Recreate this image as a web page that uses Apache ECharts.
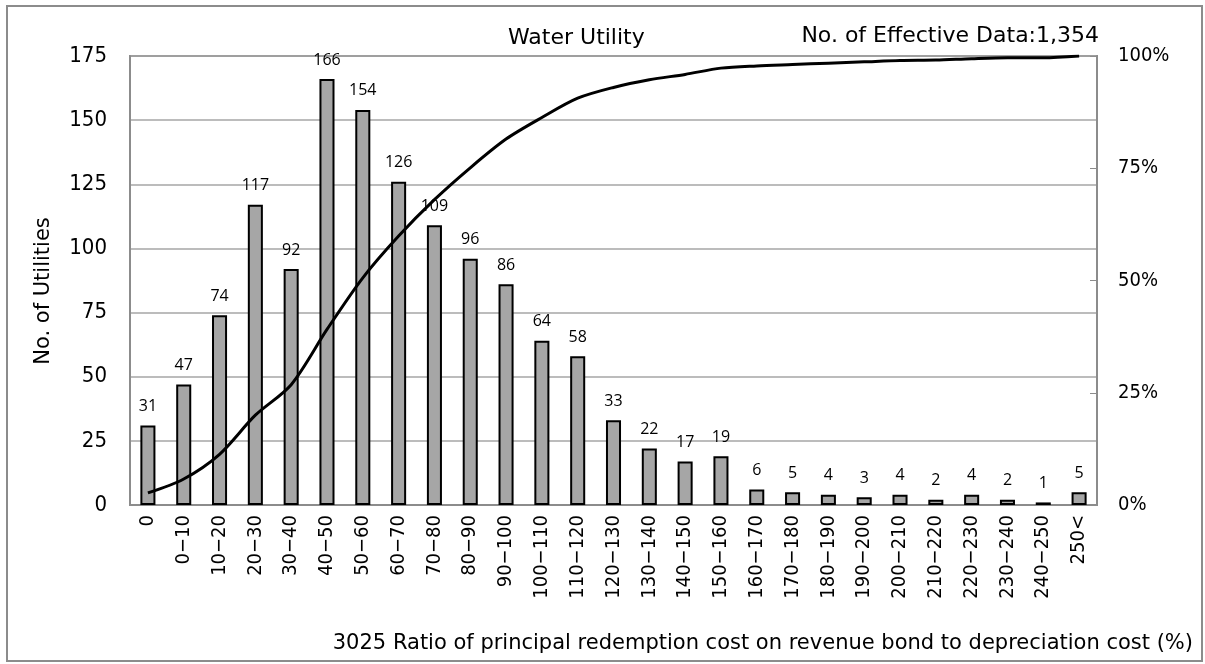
<!DOCTYPE html>
<html><head><meta charset="utf-8">
<script src="https://cdn.jsdelivr.net/npm/echarts@6/dist/echarts.min.js"></script>
<style>html,body{margin:0;padding:0;background:#fff}#c{width:1205px;height:664px}</style>
</head><body><div id="c"></div>
<script>
const categories = ["0","0−10","10−20","20−30","30−40","40−50","50−60","60−70","70−80","80−90","90−100","100−110","110−120","120−130","130−140","140−150","150−160","160−170","170−180","180−190","190−200","200−210","210−220","220−230","230−240","240−250","250<"];
const counts = [31,47,74,117,92,166,154,126,109,96,86,64,58,33,22,17,19,6,5,4,3,4,2,4,2,1,5];
const cumulativePct = [2.7,5.8,11.3,20.0,26.8,39.1,50.6,59.9,68.0,75.1,81.5,86.3,90.6,93.0,94.7,95.9,97.3,97.8,98.1,98.4,98.7,99.0,99.1,99.4,99.6,99.6,100];
const leftTicks = [0,25,50,75,100,125,150,175];
const titleText = "Water Utility";
const noteText = "No. of Effective Data:1,354";
const yName = "No. of Utilities";
const xName = "3025 Ratio of principal redemption cost on revenue bond to depreciation cost (%)";

const wideFont = '"DejaVu Sans", sans-serif';
const condFont = '"DejaVu Sans Condensed", "DejaVu Sans", sans-serif';
const labelFont = '"Open Sans", "Noto Sans", sans-serif';
const chart = echarts.init(document.getElementById('c'));
chart.setOption({
  animation: false,
  backgroundColor: '#fff',
  graphic: [
    {type:'rect', shape:{x:7,y:6,width:1195,height:655}, style:{fill:'none', stroke:'#8c8c8c', lineWidth:2}, z:-1},
    {type:'text', left:508, top:27, style:{text:titleText, font:'22px '+wideFont, fill:'#000'}},
    {type:'text', right:1205-1099, top:25, style:{text:noteText, font:'22px '+wideFont, fill:'#000'}},
    {type:'text', right:1205-1193, top:633, style:{text:xName, font:'21px '+wideFont, fill:'#000'}},
    {type:'text', x:44, y:291, rotation:Math.PI/2, style:{text:yName, font:'21px '+wideFont, fill:'#000', align:'center', verticalAlign:'middle'}}
  ],
  grid: {left:130, right:108, top:56, bottom:159, show:true, borderColor:'#8c8c8c', borderWidth:2},
  xAxis: {
    type:'category', data:categories,
    axisLine:{show:true, lineStyle:{color:'#8c8c8c', width:2}},
    axisTick:{show:false},
    axisLabel:{rotate:90, margin:10, fontSize:20, fontFamily:condFont, color:'#000'}
  },
  yAxis: [
    {type:'value', min:leftTicks[0], max:leftTicks[leftTicks.length-1], interval:25,
     axisLine:{show:true, lineStyle:{color:'#8c8c8c', width:2}}, axisTick:{show:false},
     splitLine:{show:true, lineStyle:{color:'#a6a6a6', width:1.5}},
     axisLabel:{fontSize:22, fontFamily:condFont, color:'#000', margin:23}},
    {type:'value', min:0, max:100, interval:25, position:'right',
     axisLine:{show:true, lineStyle:{color:'#8c8c8c', width:2}},
     axisTick:{show:true, inside:true, length:7, lineStyle:{color:'#8c8c8c'}},
     splitLine:{show:false},
     axisLabel:{fontSize:20, fontFamily:condFont, color:'#000', margin:21, formatter:'{value}%'}}
  ],
  series: [
    {type:'bar', data:counts, yAxisIndex:0, barWidth:'42%',
     itemStyle:{color:'#a6a6a6', borderColor:'#000', borderWidth:2},
     label:{show:true, position:'top', distance:11, fontSize:16, fontFamily:labelFont, color:'#000'}},
    {type:'line', data:cumulativePct, yAxisIndex:1, smooth:0.3, symbol:'none',
     lineStyle:{color:'#000', width:3}, z:5}
  ]
});
</script></body></html>
